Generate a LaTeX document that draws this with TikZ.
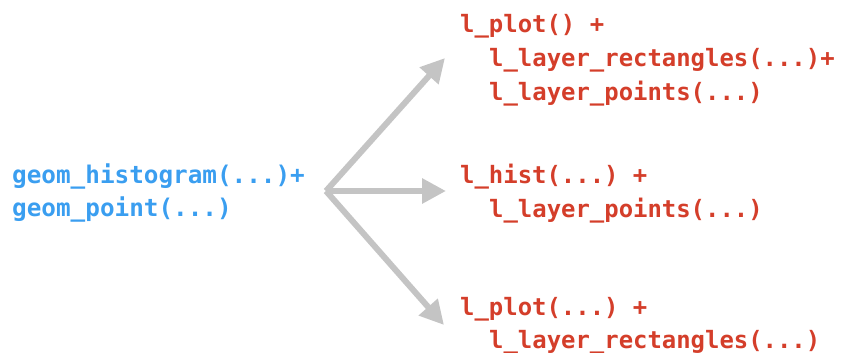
\documentclass[tikz,border=0pt]{standalone}
\usepackage{fontspec}
\setmonofont{DejaVu Sans Mono}
\usetikzlibrary{arrows.meta}
\definecolor{gblue}{RGB}{58,158,240}
\definecolor{gred}{RGB}{212,62,42}
\definecolor{agray}{RGB}{196,196,196}
\tikzset{
  code/.style={anchor=base west, inner sep=0pt, font=\fontsize{24}{34}\selectfont\ttfamily\bfseries},
  bluecode/.style={code, text=gblue, font=\fontsize{24.4}{34}\selectfont\ttfamily\bfseries},
  redcode/.style={code, text=gred},
  conn/.style={draw=agray, line width=6bp, -{Triangle[length=24bp,width=24bp]}, line cap=butt}
}
\begin{document}
\begin{tikzpicture}[x=1bp,y=-1bp]
\useasboundingbox (0,0) rectangle (849,352);
% source
\node[bluecode] (s1) at (12,183) {geom\_histogram(...)+};
\node[bluecode] (s2) at (12,216) {geom\_point(...)};
% targets
\node[redcode] (a1) at (460,32) {l\_plot() +};
\node[redcode] (a2) at (489,66) {l\_layer\_rectangles(...)+};
\node[redcode] (a3) at (489,100) {l\_layer\_points(...)};
\node[redcode] (b1) at (460,183) {l\_hist(...) +};
\node[redcode] (b2) at (489,217) {l\_layer\_points(...)};
\node[redcode] (c1) at (460,315) {l\_plot(...) +};
\node[redcode] (c2) at (489,348) {l\_layer\_rectangles(...)};
% connectors
\coordinate (o) at (326,191);
\coordinate (ta) at (445,58);
\coordinate (tb) at (446,191);
\coordinate (tc) at (444,325);
\draw[conn] (o) -- (ta);
\draw[conn] (o) -- (tb);
\draw[conn] (o) -- (tc);
\end{tikzpicture}
\end{document}
